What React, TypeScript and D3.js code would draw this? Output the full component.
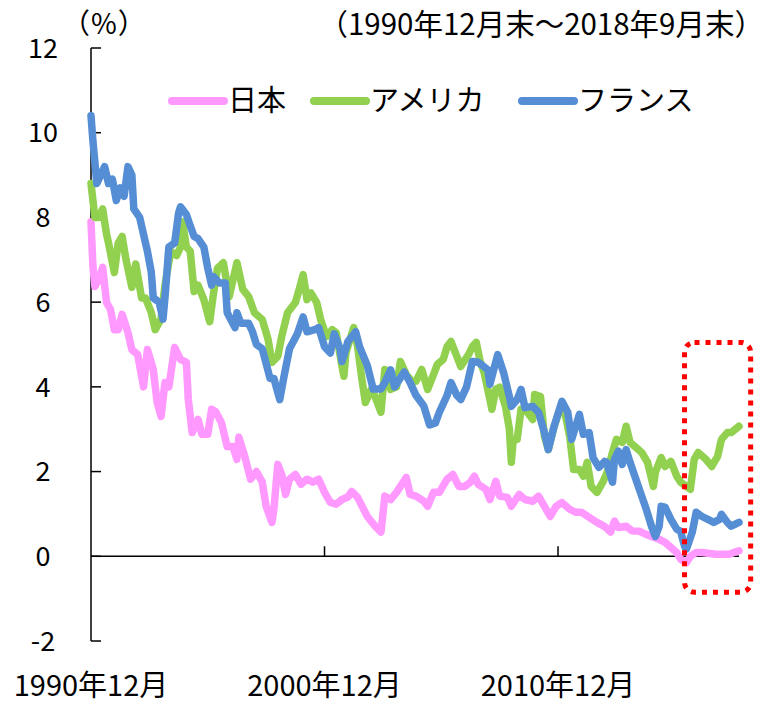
import { useEffect, useRef } from 'react';
import * as d3 from 'd3';

// 10-year government bond yields (%), month-end
const japan: [string, number][] = [
  ['1990-12', 7.9], ['1991-01', 6.84], ['1991-02', 6.37], ['1991-04', 6.53], ['1991-06', 6.82],
  ['1991-08', 5.99], ['1991-10', 5.83], ['1991-12', 5.35], ['1992-02', 5.35], ['1992-04', 5.71],
  ['1992-07', 5.28], ['1992-09', 4.88], ['1992-12', 4.76], ['1993-03', 4.0], ['1993-05', 4.88],
  ['1993-08', 4.41], ['1993-10', 3.63], ['1993-12', 3.3], ['1994-02', 4.1], ['1994-04', 4.0],
  ['1994-07', 4.93], ['1994-10', 4.65], ['1995-01', 4.58], ['1995-02', 3.7], ['1995-04', 2.92],
  ['1995-07', 3.23], ['1995-09', 2.88], ['1995-12', 2.88], ['1996-02', 3.47], ['1996-04', 3.42],
  ['1996-07', 3.16], ['1996-10', 2.59], ['1997-01', 2.59], ['1997-03', 2.29], ['1997-04', 2.81],
  ['1997-07', 2.36], ['1997-10', 1.82], ['1998-01', 2.0], ['1998-04', 1.75], ['1998-06', 1.18],
  ['1998-09', 0.8], ['1998-10', 1.11], ['1998-12', 2.17], ['1999-02', 1.93], ['1999-04', 1.46],
  ['1999-06', 1.82], ['1999-09', 1.93], ['1999-12', 1.7], ['2000-03', 1.82], ['2000-06', 1.75],
  ['2000-09', 1.82], ['2000-12', 1.51], ['2001-03', 1.27], ['2001-06', 1.23], ['2001-09', 1.34],
  ['2001-12', 1.4], ['2002-02', 1.53], ['2002-05', 1.39], ['2002-10', 0.94], ['2003-02', 0.71],
  ['2003-05', 0.57], ['2003-07', 1.42], ['2003-10', 1.34], ['2004-01', 1.51], ['2004-06', 1.86],
  ['2004-08', 1.46], ['2004-11', 1.42], ['2005-03', 1.3], ['2005-05', 1.18], ['2005-08', 1.51],
  ['2005-11', 1.51], ['2006-03', 1.82], ['2006-06', 1.93], ['2006-09', 1.65], ['2006-12', 1.65],
  ['2007-03', 1.75], ['2007-05', 1.89], ['2007-07', 1.7], ['2007-11', 1.58], ['2008-01', 1.34],
  ['2008-04', 1.77], ['2008-06', 1.42], ['2008-10', 1.39], ['2008-12', 1.18], ['2009-04', 1.46],
  ['2009-07', 1.34], ['2009-11', 1.3], ['2010-02', 1.42], ['2010-05', 1.18], ['2010-08', 0.94],
  ['2010-11', 1.18], ['2011-02', 1.27], ['2011-06', 1.11], ['2011-09', 1.04], ['2011-12', 1.04],
  ['2012-04', 0.92], ['2012-08', 0.8], ['2012-12', 0.7], ['2013-03', 0.57], ['2013-05', 0.83],
  ['2013-07', 0.68], ['2013-11', 0.71], ['2014-02', 0.6], ['2014-06', 0.59], ['2014-09', 0.52],
  ['2014-12', 0.47], ['2015-04', 0.4], ['2015-07', 0.33], ['2015-10', 0.21], ['2016-01', 0.09],
  ['2016-03', -0.07], ['2016-06', -0.15], ['2016-08', 0.0], ['2016-11', 0.09], ['2017-02', 0.09],
  ['2017-05', 0.07], ['2017-09', 0.05], ['2017-12', 0.05], ['2018-04', 0.05], ['2018-07', 0.1],
  ['2018-09', 0.13],
];

const usa: [string, number][] = [
  ['1990-12', 8.8], ['1991-02', 8.0], ['1991-04', 8.0], ['1991-06', 8.2], ['1991-08', 7.6],
  ['1991-09', 7.4], ['1991-12', 6.7], ['1992-02', 7.4], ['1992-04', 7.55], ['1992-06', 7.0],
  ['1992-09', 6.35], ['1992-11', 6.9], ['1993-02', 6.1], ['1993-04', 6.1], ['1993-07', 5.75],
  ['1993-09', 5.35], ['1993-12', 5.6], ['1994-02', 6.4], ['1994-05', 7.2], ['1994-08', 7.1],
  ['1994-10', 7.3], ['1994-11', 7.9], ['1995-01', 7.3], ['1995-03', 7.2], ['1995-05', 6.25],
  ['1995-07', 6.4], ['1995-10', 6.06], ['1996-01', 5.54], ['1996-03', 6.22], ['1996-05', 6.8],
  ['1996-08', 6.93], ['1996-11', 6.13], ['1997-03', 6.93], ['1997-06', 6.3], ['1997-09', 6.13],
  ['1997-12', 5.75], ['1998-04', 5.59], ['1998-07', 5.12], ['1998-09', 4.58], ['1998-12', 4.72],
  ['1999-02', 5.19], ['1999-05', 5.75], ['1999-09', 5.99], ['1999-11', 6.3], ['2000-01', 6.65],
  ['2000-03', 6.06], ['2000-05', 6.22], ['2000-08', 5.99], ['2000-10', 5.59], ['2001-01', 5.19],
  ['2001-04', 5.35], ['2001-06', 5.28], ['2001-09', 4.48], ['2001-10', 4.25], ['2001-11', 4.81],
  ['2002-03', 5.4], ['2002-05', 4.95], ['2002-07', 4.25], ['2002-09', 3.63], ['2002-12', 3.94],
  ['2003-02', 3.77], ['2003-05', 3.4], ['2003-07', 4.41], ['2003-10', 3.94], ['2004-01', 4.0],
  ['2004-03', 4.6], ['2004-06', 4.29], ['2004-09', 4.13], ['2004-11', 4.13], ['2005-02', 4.41],
  ['2005-05', 3.94], ['2005-08', 4.29], ['2005-10', 4.53], ['2006-01', 4.65], ['2006-03', 4.95],
  ['2006-05', 5.07], ['2006-08', 4.72], ['2006-10', 4.48], ['2007-02', 4.76], ['2007-04', 4.95],
  ['2007-06', 5.05], ['2007-08', 4.6], ['2007-10', 4.34], ['2008-01', 3.7], ['2008-02', 3.47],
  ['2008-04', 3.94], ['2008-06', 3.99], ['2008-09', 3.54], ['2008-11', 3.0], ['2008-12', 2.22],
  ['2009-01', 2.76], ['2009-03', 2.76], ['2009-05', 3.47], ['2009-07', 3.47], ['2009-11', 3.23],
  ['2009-12', 3.82], ['2010-03', 3.77], ['2010-05', 2.83], ['2010-07', 2.52], ['2010-10', 3.07],
  ['2011-01', 3.47], ['2011-03', 3.51], ['2011-06', 2.83], ['2011-08', 2.05], ['2011-11', 2.05],
  ['2012-01', 1.89], ['2012-03', 2.22], ['2012-05', 1.65], ['2012-08', 1.51], ['2012-11', 1.75],
  ['2013-01', 1.95], ['2013-04', 2.45], ['2013-06', 2.76], ['2013-09', 2.69], ['2013-11', 3.07],
  ['2014-01', 2.69], ['2014-04', 2.57], ['2014-07', 2.45], ['2014-10', 2.22], ['2015-01', 1.65],
  ['2015-02', 1.98], ['2015-05', 2.33], ['2015-07', 2.12], ['2015-10', 2.24], ['2016-01', 1.89],
  ['2016-03', 1.75], ['2016-06', 1.65], ['2016-08', 1.58], ['2016-10', 2.29], ['2016-12', 2.45],
  ['2017-04', 2.29], ['2017-07', 2.12], ['2017-10', 2.36], ['2017-12', 2.76], ['2018-03', 2.92],
  ['2018-05', 2.92], ['2018-09', 3.07],
];

const france: [string, number][] = [
  ['1990-12', 10.4], ['1991-01', 9.8], ['1991-03', 8.8], ['1991-07', 9.2], ['1991-09', 8.8],
  ['1991-11', 8.9], ['1992-01', 8.4], ['1992-03', 8.7], ['1992-05', 8.5], ['1992-07', 9.2],
  ['1992-09', 9.0], ['1992-10', 8.2], ['1993-01', 8.0], ['1993-03', 7.6], ['1993-05', 7.2],
  ['1993-07', 6.7], ['1993-08', 6.1], ['1993-11', 6.0], ['1994-01', 5.6], ['1994-02', 6.1],
  ['1994-04', 7.3], ['1994-07', 7.4], ['1994-09', 8.1], ['1994-10', 8.25], ['1995-01', 8.07],
  ['1995-03', 7.8], ['1995-05', 7.55], ['1995-07', 7.5], ['1995-10', 7.3], ['1995-12', 6.8],
  ['1996-02', 6.4], ['1996-03', 6.6], ['1996-06', 6.45], ['1996-09', 6.45], ['1996-10', 5.75],
  ['1997-02', 5.4], ['1997-03', 5.75], ['1997-05', 5.5], ['1997-09', 5.5], ['1997-11', 5.3],
  ['1998-01', 5.0], ['1998-04', 4.9], ['1998-08', 4.2], ['1998-10', 4.2], ['1999-01', 3.7],
  ['1999-03', 4.2], ['1999-06', 4.9], ['1999-10', 5.25], ['2000-01', 5.65], ['2000-03', 5.3],
  ['2000-07', 5.35], ['2000-09', 5.4], ['2000-12', 4.95], ['2001-03', 4.8], ['2001-05', 5.25],
  ['2001-08', 4.9], ['2001-09', 4.6], ['2001-12', 5.07], ['2002-04', 5.3], ['2002-06', 4.95],
  ['2002-10', 4.5], ['2003-01', 3.95], ['2003-05', 3.95], ['2003-07', 4.1], ['2003-10', 4.4],
  ['2003-12', 4.0], ['2004-05', 4.35], ['2004-08', 4.1], ['2004-11', 3.8], ['2005-03', 3.55],
  ['2005-06', 3.1], ['2005-09', 3.15], ['2005-11', 3.4], ['2006-03', 3.8], ['2006-05', 4.1],
  ['2006-08', 3.8], ['2006-10', 3.7], ['2007-01', 4.0], ['2007-04', 4.6], ['2007-07', 4.58],
  ['2007-12', 4.4], ['2008-01', 4.06], ['2008-05', 4.76], ['2008-08', 4.34], ['2008-11', 3.77],
  ['2008-12', 3.54], ['2009-03', 3.7], ['2009-05', 3.94], ['2009-07', 3.51], ['2009-11', 3.54],
  ['2010-02', 3.4], ['2010-05', 2.92], ['2010-07', 2.52], ['2010-10', 3.07], ['2011-02', 3.66],
  ['2011-05', 3.4], ['2011-07', 2.76], ['2011-11', 3.35], ['2012-01', 2.88], ['2012-04', 2.92],
  ['2012-06', 2.33], ['2012-09', 2.1], ['2012-12', 2.24], ['2013-01', 2.22], ['2013-04', 1.75],
  ['2013-05', 2.29], ['2013-07', 2.48], ['2013-09', 2.17], ['2013-11', 2.52], ['2014-01', 2.22],
  ['2014-04', 1.82], ['2014-07', 1.42], ['2014-09', 1.16], ['2014-12', 0.71], ['2015-02', 0.47],
  ['2015-04', 0.71], ['2015-05', 1.18], ['2015-07', 1.16], ['2015-10', 0.87], ['2016-01', 0.64],
  ['2016-03', 0.59], ['2016-05', 0.24], ['2016-06', 0.17], ['2016-09', 0.57], ['2016-11', 1.04],
  ['2017-02', 0.94], ['2017-05', 0.87], ['2017-08', 0.8], ['2017-11', 0.87], ['2017-12', 0.99],
  ['2018-03', 0.8], ['2018-05', 0.71], ['2018-09', 0.8],
];

const seriesNames = ['日本', 'アメリカ', 'フランス'];
const seriesColors = ['#ff99ff', '#92d050', '#558ed5'];
const yTicks = [-2, 0, 2, 4, 6, 8, 10, 12];
const xTickMonths = ['1990-12', '2000-12', '2010-12'];
const xStart = '1990-12';
const xEnd = '2018-09';
const highlight = { from: '2016-05', to: '2019-03', top: 5.05, bottom: -0.85 };

const FONT = "'Noto Sans CJK JP', 'Noto Sans', sans-serif";

// months elapsed since Dec 1990
const monthIndex = (s: string) => {
  const [y, m] = s.split('-').map(Number);
  return (y - 1990) * 12 + (m - 12);
};

export default function App() {
  const svgRef = useRef<SVGSVGElement>(null);

  useEffect(() => {
    if (!svgRef.current) return;
    const svg = d3.select(svgRef.current);
    svg.selectAll('*').remove();

    const xScale = d3.scaleLinear()
      .domain([monthIndex(xStart), monthIndex(xEnd)])
      .range([91, 739]);
    const yScale = d3.scaleLinear().domain([-2, 12]).range([641, 48]);

    // Y axis
    svg.append('line')
      .attr('x1', 91).attr('x2', 91)
      .attr('y1', yScale(12)).attr('y2', yScale(-2))
      .attr('stroke', '#000').attr('stroke-width', 1.5);

    svg.append('g')
      .selectAll('line')
      .data(yTicks)
      .join('line')
      .attr('x1', 91).attr('x2', 101)
      .attr('y1', d => yScale(d)).attr('y2', d => yScale(d))
      .attr('stroke', '#000').attr('stroke-width', 1.5);

    svg.append('g')
      .selectAll('text')
      .data(yTicks)
      .join('text')
      .attr('x', 43)
      .attr('y', d => yScale(d))
      .attr('dy', '0.36em')
      .attr('text-anchor', 'middle')
      .style('font-family', FONT)
      .style('font-size', '27px')
      .style('fill', '#000')
      .text(d => String(d));

    // X axis at zero
    svg.append('line')
      .attr('x1', xScale(monthIndex(xStart))).attr('x2', xScale(monthIndex(xEnd)))
      .attr('y1', yScale(0)).attr('y2', yScale(0))
      .attr('stroke', '#000').attr('stroke-width', 1.5);

    svg.append('g')
      .selectAll('line')
      .data(xTickMonths.slice(1))
      .join('line')
      .attr('x1', d => xScale(monthIndex(d))).attr('x2', d => xScale(monthIndex(d)))
      .attr('y1', yScale(0)).attr('y2', yScale(0) - 10)
      .attr('stroke', '#000').attr('stroke-width', 1.5);

    svg.append('g')
      .selectAll('text')
      .data(xTickMonths)
      .join('text')
      .attr('x', d => xScale(monthIndex(d)))
      .attr('y', 696)
      .attr('text-anchor', 'middle')
      .style('font-family', FONT)
      .style('font-size', '29px')
      .style('fill', '#000')
      .text(d => {
        const [y, m] = d.split('-').map(Number);
        return `${y}年${m}月`;
      });

    // Lines
    const line = d3.line<[string, number]>()
      .x(d => xScale(monthIndex(d[0])))
      .y(d => yScale(d[1]))
      .curve(d3.curveLinear);

    [japan, usa, france].forEach((s, i) => {
      svg.append('path')
        .datum(s)
        .attr('fill', 'none')
        .attr('stroke', seriesColors[i])
        .attr('stroke-width', 7.5)
        .attr('stroke-linejoin', 'round')
        .attr('stroke-linecap', 'round')
        .attr('d', line);
    });

    // Highlight box
    const hx0 = xScale(monthIndex(highlight.from));
    const hx1 = xScale(monthIndex(highlight.to));
    const hy0 = yScale(highlight.top);
    const hy1 = yScale(highlight.bottom);
    svg.append('rect')
      .attr('x', hx0).attr('y', hy0)
      .attr('width', hx1 - hx0).attr('height', hy1 - hy0)
      .attr('rx', 10).attr('ry', 10)
      .attr('fill', 'none')
      .attr('stroke', '#ff0000')
      .attr('stroke-width', 5)
      .attr('stroke-dasharray', '5 6');

    // Legend
    const legendX = [172, 314, 522];
    const legend = svg.append('g').attr('transform', 'translate(0,101)');
    seriesNames.forEach((name, i) => {
      legend.append('line')
        .attr('x1', legendX[i]).attr('x2', legendX[i] + 52)
        .attr('y1', 0).attr('y2', 0)
        .attr('stroke', seriesColors[i])
        .attr('stroke-width', 8)
        .attr('stroke-linecap', 'round');
      legend.append('text')
        .attr('x', legendX[i] + 56)
        .attr('y', 0)
        .attr('dy', '0.36em')
        .style('font-family', FONT)
        .style('font-size', '29px')
        .style('fill', '#000')
        .text(name);
    });

    // Unit and period
    svg.append('text')
      .attr('x', 62).attr('y', 34)
      .style('font-family', FONT)
      .style('font-size', '28px')
      .style('letter-spacing', '1px')
      .style('fill', '#000')
      .text('（%）');

    svg.append('text')
      .attr('x', 764).attr('y', 35)
      .attr('text-anchor', 'end')
      .style('font-family', FONT)
      .style('font-size', '29.5px')
      .style('fill', '#000')
      .text('（1990年12月末～2018年9月末）');
  }, []);

  return (
    <svg
      ref={svgRef}
      width={768}
      height={704}
      style={{ position: 'absolute', left: 0, top: 0, background: '#fff' }}
    />
  );
}
